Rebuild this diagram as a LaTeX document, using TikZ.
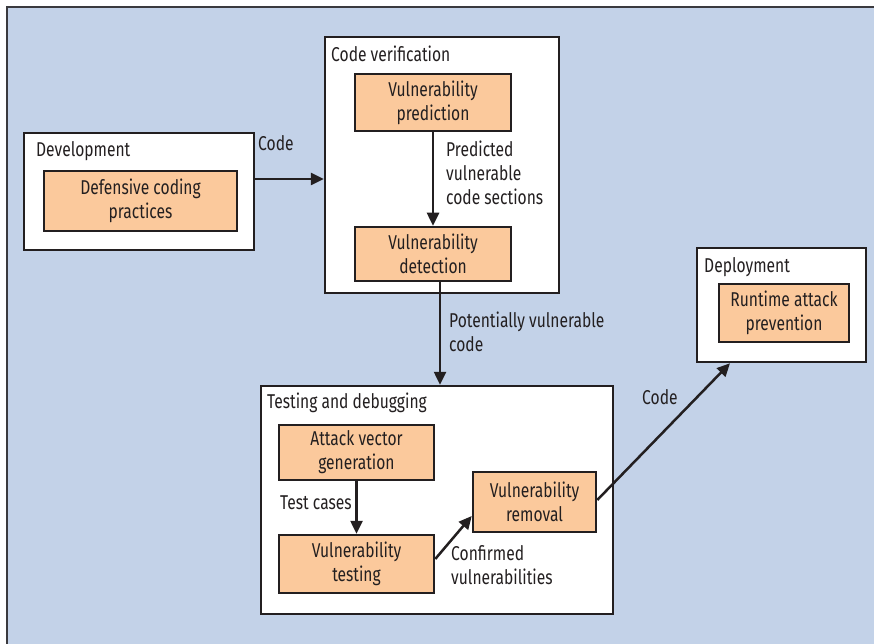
\documentclass[tikz,border=0pt]{standalone}
\usepackage{fontspec}
\setmainfont{Fira Sans}[FakeStretch=0.78]
\usetikzlibrary{arrows.meta}
\definecolor{bgblue}{HTML}{C3D2E8}
\definecolor{orangef}{HTML}{FBC99C}
\definecolor{linec}{HTML}{231F20}
\definecolor{framec}{HTML}{3A3A3E}
\tikzset{
  outerbox/.style={draw=linec, line width=2.5pt, fill=white, inner sep=0pt},
  innerbox/.style={draw=linec, line width=2.5pt, fill=orangef, inner sep=0pt, align=center, text=linec, font=\fontsize{20}{24}\selectfont},
  lbl/.style={anchor=west, inner sep=0pt, text=linec, align=left, font=\fontsize{20}{24}\selectfont},
  arr/.style={draw=linec, line width=2.5pt, -{Triangle[length=13pt,width=12pt]}},
}
\begin{document}
\begin{tikzpicture}[x=1pt,y=-1pt]
\useasboundingbox (0,0) rectangle (874,644);
\fill[bgblue] (7,7) rectangle (874,644);
\draw[framec, line width=2.5pt] (7,644) -- (7,7) -- (874,7);

% boxes
\node[outerbox, minimum width=230pt, minimum height=117pt] (dev) at (139,191.5) {};
\node[innerbox, minimum width=193pt, minimum height=60pt] (def) at (140.5,201) {Defensive coding\\practices};
\node[lbl] (devt) at (36,151) {Development};

\node[outerbox, minimum width=234pt, minimum height=256pt] (cv) at (442,165) {};
\node[lbl] (cvt) at (331,54) {Code verification};
\node[innerbox, minimum width=156pt, minimum height=57pt] (pred) at (433,102.5) {Vulnerability\\prediction};
\node[innerbox, minimum width=156pt, minimum height=54pt] (det) at (433,254) {Vulnerability\\detection};

\node[outerbox, minimum width=352pt, minimum height=228pt] (test) at (437,500) {};
\node[lbl] (testt) at (267,403) {Testing and debugging};
\node[innerbox, minimum width=155pt, minimum height=55pt] (att) at (356.5,452.5) {Attack vector\\generation};
\node[innerbox, minimum width=155pt, minimum height=58pt] (vt) at (356.5,564) {Vulnerability\\testing};
\node[innerbox, minimum width=123pt, minimum height=60pt] (rem) at (534.5,502) {Vulnerability\\removal};

\node[outerbox, minimum width=169pt, minimum height=114pt] (dep) at (781.5,305) {};
\node[lbl] (dept) at (704,267) {Deployment};
\node[innerbox, minimum width=130pt, minimum height=58pt] (rt) at (784,313) {Runtime attack\\prevention};

% connectors
\draw[arr] (dev.east |- 0,179) -- (cv.west |- 0,179);
\node[lbl] (l1) at (258,143) {Code};
\draw[arr] (pred.south) -- (det.north);
\node[lbl, anchor=north west] (l2) at (446,141) {Predicted\\vulnerable\\code sections};
\draw[arr] (det.south -| 440,0) -- (test.north -| 440,0);
\node[lbl, anchor=north west] (l3) at (449,312) {Potentially vulnerable\\code};
\draw[arr] (att.south) -- (vt.north);
\node[lbl] (l4) at (280,503) {Test cases};
\draw[arr] (vt.east |- 0,559) -- (rem.west |- 0,516);
\node[lbl, anchor=north west] (l5) at (451,545) {Confirmed\\vulnerabilities};
\draw[arr] (rem.east |- 0,500) -- (dep.south -| 730,0);
\node[lbl] (l6) at (642,397) {Code};
\end{tikzpicture}
\end{document}
